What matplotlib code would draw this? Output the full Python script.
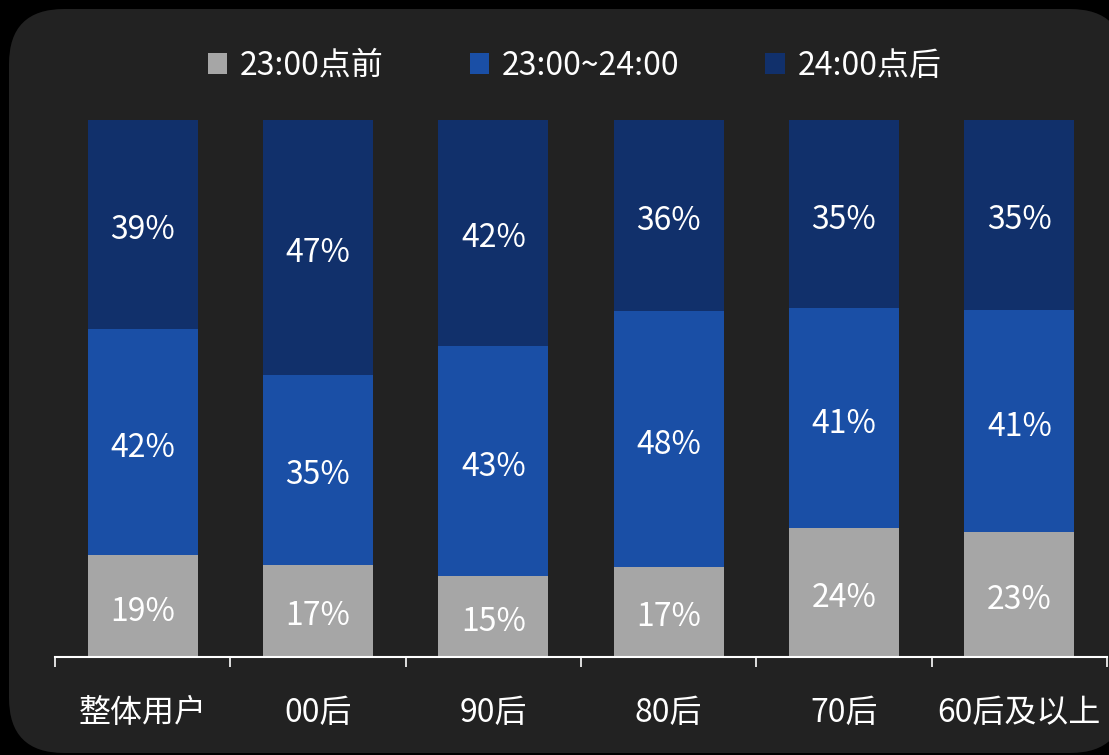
import numpy as np
import matplotlib
matplotlib.use('Agg')
import matplotlib.pyplot as plt
from matplotlib.patches import FancyBboxPatch, Patch

plt.rcParams['font.family'] = ['Noto Sans CJK SC', 'DejaVu Sans']

categories = ['整体用户', '00后', '90后', '80后', '70后', '60后及以上']
series_names = ['23:00点前', '23:00~24:00', '24:00点后']
before_23 = [19, 17, 15, 17, 24, 23]
between_23_24 = [42, 35, 43, 48, 41, 41]
after_24 = [39, 47, 42, 36, 35, 35]

colors = ['#A6A6A6', '#1A4FA6', '#11306B']

fig = plt.figure(figsize=(11.09, 7.55), dpi=100)
fig.patch.set_facecolor('black')

# rounded dark panel behind everything
bg = FancyBboxPatch((0.09, 0.02), 11.16, 7.44, boxstyle='round,pad=0,rounding_size=0.55',
                    transform=fig.dpi_scale_trans, facecolor='#222222', edgecolor='none', zorder=-10)
fig.patches.append(bg)

ax = fig.add_axes([0.0496, 0.1298, 0.9486, 0.7113])
ax.set_facecolor('none')
ax.set_zorder(1)

data = np.array([before_23, between_23_24, after_24], dtype=float)
shares = data / data.sum(axis=0)
x = np.arange(len(categories))
bottom = np.zeros(len(categories))
for i in range(3):
    ax.bar(x, shares[i], 0.627, bottom=bottom, color=colors[i], label=series_names[i], zorder=2)
    for j in range(len(categories)):
        ax.annotate('%d%%' % data[i][j], (x[j], bottom[j] + shares[i][j] / 2), xytext=(0, -4),
                    textcoords='offset points', ha='center', va='center', color='white', fontsize=23)
    bottom += shares[i]

ax.set_xlim(-0.5, len(categories) - 0.5)
ax.set_ylim(0, 1)
ax.set_yticks([])
for s in ['top', 'right', 'left']:
    ax.spines[s].set_visible(False)
ax.spines['bottom'].set_color('white')
ax.spines['bottom'].set_linewidth(1.5)
ax.spines['bottom'].set_zorder(3)

ax.set_xticks(x)
ax.set_xticklabels(categories, fontsize=23, color='white')
ax.tick_params(axis='x', which='major', length=0, pad=29)
ax.set_xticks(np.arange(-0.5, len(categories)), minor=True)
ax.tick_params(axis='x', which='minor', length=7.5, width=1.2, color='white', direction='out')

handles = [Patch(facecolor=c, edgecolor='none') for c in colors]
leg = fig.legend(handles, series_names, loc='center', bbox_to_anchor=(0.518, 0.913), ncol=3,
                 frameon=False, fontsize=23, handlelength=0.6, handleheight=0.6,
                 handletextpad=0.4, columnspacing=2.7, labelcolor='white')

fig.savefig('out.png', dpi=100, facecolor=fig.get_facecolor())
